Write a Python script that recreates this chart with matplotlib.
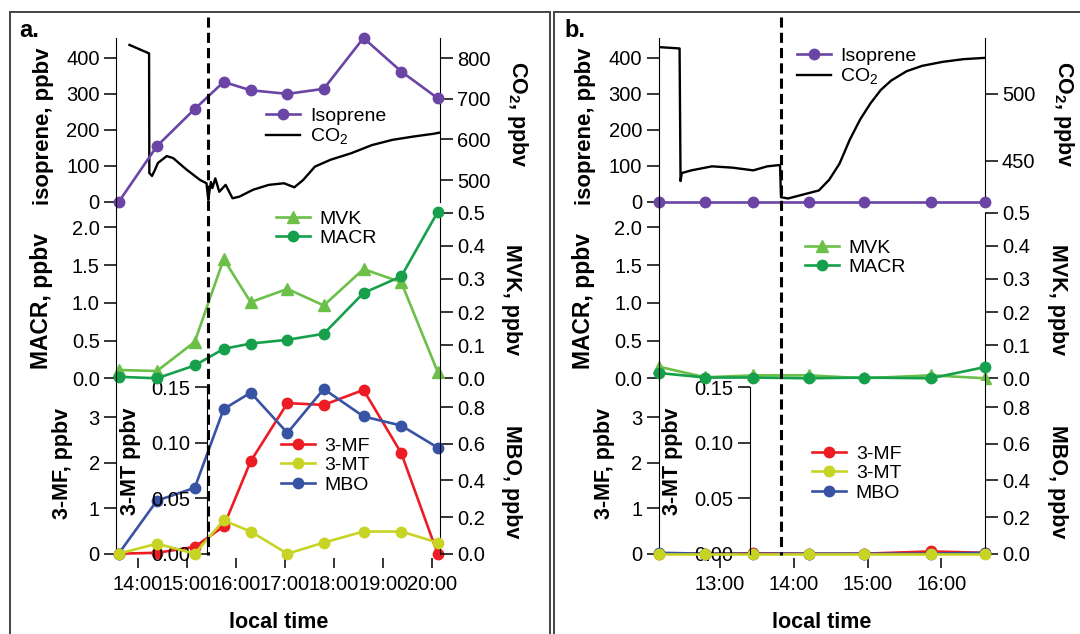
import matplotlib.pyplot as plt
import matplotlib.transforms as mtransforms
from matplotlib.lines import Line2D
from matplotlib.patches import Rectangle

plt.rcParams['font.family'] = ['Liberation Sans', 'DejaVu Sans']
plt.rcParams['mathtext.fontset'] = 'custom'
plt.rcParams['mathtext.rm'] = 'Liberation Sans'
plt.rcParams['mathtext.bf'] = 'Liberation Sans:bold'

# ---- panel a: sample times (hours, local) and mixing ratios ----
time_a = [13.61, 14.39, 15.16, 15.75, 16.30, 17.05, 17.79, 18.60, 19.37, 20.11]
isoprene_a = [0, 155, 258, 333, 310, 300, 314, 455, 362, 288]
macr_a = [0.02, 0.0, 0.17, 0.39, 0.46, 0.51, 0.59, 1.13, 1.35, 2.2]
mvk_a = [0.025, 0.022, 0.11, 0.36, 0.23, 0.27, 0.22, 0.33, 0.29, 0.02]
mf3_a = [0.0, 0.02, 0.15, 0.6, 2.03, 3.31, 3.27, 3.6, 2.21, 0.0]
mt3_a = [0.0, 0.009, 0.0, 0.03, 0.02, 0.0, 0.01, 0.02, 0.02, 0.01]
mbo_a = [0.0, 0.29, 0.36, 0.79, 0.88, 0.66, 0.90, 0.75, 0.70, 0.58]
co2_time_a = [13.83, 14.23, 14.235, 14.29, 14.35, 14.41, 14.59, 14.72, 15.00, 15.27,
              15.40, 15.437, 15.46, 15.49, 15.52, 15.58, 15.66, 15.79, 15.93, 16.07,
              16.35, 16.67, 16.98, 17.19, 17.37, 17.61, 17.93, 18.35, 18.77, 19.19,
              19.61, 20.03, 20.16]
co2_a = [833, 812, 517, 510, 525, 542, 559, 554, 525, 500,
         492, 451, 472, 495, 480, 504, 471, 488, 455, 459,
         476, 488, 492, 482, 500, 533, 550, 566, 586, 599,
         607, 614, 617]
switch_a = 15.44

# ---- panel b ----
time_b = [12.17, 12.80, 13.45, 14.20, 14.95, 15.86, 16.60]
isoprene_b = [0, 0, 0, 0, 0, 0, 0]
macr_b = [0.07, 0.01, 0.01, 0.0, 0.01, 0.0, 0.15]
mvk_b = [0.035, 0.003, 0.009, 0.009, 0.0, 0.009, 0.0]
mf3_b = [0.0, 0.0, 0.01, 0.0, 0.0, 0.05, 0.02]
mt3_b = [0, 0, 0, 0, 0, 0, 0]
mbo_b = [0.005, 0.0, 0.0, 0.0, 0.0, 0.0, 0.005]
co2_time_b = [12.17, 12.45, 12.463, 12.48, 12.61, 12.89, 13.17, 13.45, 13.64, 13.813,
              13.826, 13.92, 14.20, 14.34, 14.48, 14.62, 14.76, 14.90, 15.04, 15.18,
              15.32, 15.53, 15.74, 16.02, 16.30, 16.60]
co2_b = [535, 534, 435, 441, 443, 446, 445, 443, 446, 447,
         423, 422, 426, 428, 436, 448, 466, 481, 493, 503,
         510, 517, 521, 524, 526, 527]
switch_b = 13.82

PURPLE = '#6b45a6'
MVK_C = '#6cc04a'
MACR_C = '#17a04b'
RED = '#ed1c24'
YELLOW = '#c8d424'
BLUE = '#3953a4'

W, H = 1080, 634
fig = plt.figure(figsize=(W / 100, H / 100), dpi=100)
TICK = 14.5
LAB = 15.5


def px_axes(left, top, width, height):
    return fig.add_axes([left / W, 1 - (top + height) / H, width / W, height / H])


def clean(ax):
    for s in ax.spines.values():
        s.set_visible(False)
    ax.tick_params(axis='y', direction='out', length=9, width=1.1, labelsize=TICK, pad=3)
    ax.tick_params(axis='x', bottom=False, labelbottom=False, top=False)


def ylab(ax, text, x, y, right=False, size=LAB):
    ax.set_ylabel(text, fontsize=size, fontweight='bold',
                  rotation=270 if right else 90, va='center', ha='center')
    ax.yaxis.set_label_coords(x, y)


def legend(handles, x, y):
    fig.legend(handles, [h.get_label() for h in handles], loc='upper left',
               bbox_to_anchor=(x / W, 1 - y / H), bbox_transform=fig.transFigure,
               frameon=False, fontsize=14, handlelength=1.75, handletextpad=0.5,
               labelspacing=0.1, borderpad=0, borderaxespad=0, numpoints=1)


def panel(left, width, xlim, xticks, t, iso, macr, mvk, mf, mt, mbo, ct, co2,
          co2_lim, co2_ticks, co2_bounds, switch, letter, letter_x, leg):
    lw, ms = 1.9, 7.5

    # top: isoprene + CO2
    ax1 = px_axes(left, 38, width, 170)
    ax1r = ax1.twinx()
    ax1.set_zorder(ax1r.get_zorder() + 1)
    ax1.patch.set_visible(False)
    clean(ax1)
    clean(ax1r)
    ax1.set_xlim(xlim)
    h_co2, = ax1r.plot(ct, co2, '-', color='k', lw=1.7, label='CO$_2$')
    h_iso, = ax1.plot(t, iso, '-o', color=PURPLE, lw=lw, ms=ms, clip_on=False, label='Isoprene')
    ax1.set_ylim(-16.7, 455)
    ax1.set_yticks([0, 100, 200, 300, 400])
    ax1.spines['left'].set_visible(True)
    ax1r.set_ylim(co2_lim)
    ax1r.set_yticks(co2_ticks)
    ax1r.spines['right'].set_visible(True)
    ax1r.spines['right'].set_bounds(*co2_bounds)
    ylab(ax1, 'isoprene, ppbv', -0.225, 0.48, size=16)
    ylab(ax1r, r'CO$_\mathbf{2}$, ppbv', 1.24, 0.55, right=True)
    legend([h_iso, h_co2], *leg[0])

    # middle: MACR + MVK
    ax2 = px_axes(left, 208, width, 173)
    ax2r = ax2.twinx()
    ax2.set_zorder(ax2r.get_zorder() + 1)
    ax2.patch.set_visible(False)
    clean(ax2)
    clean(ax2r)
    ax2.set_xlim(xlim)
    h_mvk, = ax2r.plot(t, mvk, '-^', color=MVK_C, lw=lw, ms=ms + 1, clip_on=False, label='MVK')
    h_macr, = ax2.plot(t, macr, '-o', color=MACR_C, lw=lw, ms=ms, clip_on=False, label='MACR')
    ax2.set_ylim(-0.0358, 2.2556)
    ax2.set_yticks([0, 0.5, 1.0, 1.5, 2.0], ['0.0', '0.5', '1.0', '1.5', '2.0'])
    ax2.spines['left'].set_visible(True)
    ax2r.set_ylim(-0.0082, 0.5145)
    ax2r.set_yticks([0, 0.1, 0.2, 0.3, 0.4, 0.5], ['0.0', '0.1', '0.2', '0.3', '0.4', '0.5'])
    ax2r.spines['right'].set_visible(True)
    ax2r.spines['right'].set_bounds(-0.0082, 0.5)
    ylab(ax2, 'MACR, ppbv', -0.232, 0.46, size=16.5)
    ylab(ax2r, 'MVK, ppbv', 1.22, 0.47, right=True)
    legend([h_mvk, h_macr], *leg[1])

    # bottom: 3-MF, MBO, 3-MT
    ax3 = px_axes(left, 381, width, 177)
    ax3r = ax3.twinx()
    ax3m = ax3.twinx()
    for a in (ax3, ax3r, ax3m):
        clean(a)
    ax3.set_xlim(xlim)
    h_mf, = ax3.plot(t, mf, '-o', color=RED, lw=lw, ms=ms, clip_on=False, label='3-MF')
    h_mbo, = ax3r.plot(t, mbo, '-o', color=BLUE, lw=lw, ms=ms, clip_on=False, label='MBO')
    h_mt, = ax3m.plot(t, mt, '-o', color=YELLOW, lw=lw, ms=ms, clip_on=False, label='3-MT')
    ax3.set_ylim(-0.0945, 3.796)
    ax3.set_yticks([0, 1, 2, 3])
    ax3.spines['left'].set_visible(True)
    ax3.spines['left'].set_bounds(0, 3.796)
    ax3r.set_ylim(-0.0235, 0.9437)
    ax3r.set_yticks([0, 0.2, 0.4, 0.6, 0.8], ['0.0', '0.2', '0.4', '0.6', '0.8'])
    ax3r.spines['right'].set_visible(True)
    ax3r.spines['right'].set_bounds(0, 0.9437)
    ax3m.yaxis.tick_left()
    ax3m.yaxis.set_label_position('left')
    ax3m.set_ylim(-0.00387, 0.1556)
    ax3m.set_yticks([0, 0.05, 0.10, 0.15], ['0.00', '0.05', '0.10', '0.15'])
    ax3m.tick_params(axis='y', left=True, right=False, labelleft=True, labelright=False)
    ax3m.spines['left'].set_visible(True)
    ax3m.spines['left'].set_position(('axes', 0.279))
    ax3m.spines['left'].set_bounds(0, 0.15)
    ylab(ax3, '3-MF, ppbv', -0.165, 0.534)
    ylab(ax3m, '3-MT ppbv', 0.043, 0.544)
    ylab(ax3r, 'MBO, ppbv', 1.22, 0.43, right=True)
    ax3.tick_params(axis='x', bottom=True, labelbottom=True, direction='out',
                    length=7.5, width=1.1, labelsize=TICK, pad=5)
    ax3.set_xticks(xticks, ['%d:00' % h for h in xticks])
    ax3.set_xlabel('local time', fontsize=LAB, fontweight='bold', va='center')
    ax3.xaxis.set_label_coords(0.5, -0.3655)
    legend([h_mf, h_mt, h_mbo], *leg[2])

    # light switch marker
    trans = mtransforms.blended_transform_factory(ax1.transData, fig.transFigure)
    fig.add_artist(Line2D([switch, switch], [1 - 17 / H, 1 - 555 / H], transform=trans,
                          color='k', lw=2.2, ls=(0, (3.3, 1.7))))

    fig.text(letter_x / W, 1 - 37 / H, letter, fontsize=17, fontweight='bold', va='baseline')


panel(116.4, 323.7, (13.564, 20.161), [14, 15, 16, 17, 18, 19, 20],
      time_a, isoprene_a, macr_a, mvk_a, mf3_a, mt3_a, mbo_a, co2_time_a, co2_a,
      (431, 850), [500, 600, 700, 800], (446, 850), switch_a, 'a.', 19,
      [(266, 107), (275.5, 210), (280.7, 437)])

panel(658.8, 326.5, (12.168, 16.598), [13, 14, 15, 16],
      time_b, isoprene_b, macr_b, mvk_b, mf3_b, mt3_b, mbo_b, co2_time_b, co2_b,
      (414.9, 541.8), [450, 500], (419.4, 541.8), switch_b, 'b.', 564,
      [(796.5, 47), (805, 239), (812, 445)])

# panel frames
fig.add_artist(Rectangle((9.5 / W, -0.1), (550 - 9.5) / W, 1.1 - 11.5 / H,
                         transform=fig.transFigure, fill=False, ec='#444444', lw=1.4))
fig.add_artist(Rectangle((553.5 / W, -0.1), 0.6, 1.1 - 11.5 / H,
                         transform=fig.transFigure, fill=False, ec='#444444', lw=1.4))

fig.savefig('out.png', dpi=100, facecolor='white')
